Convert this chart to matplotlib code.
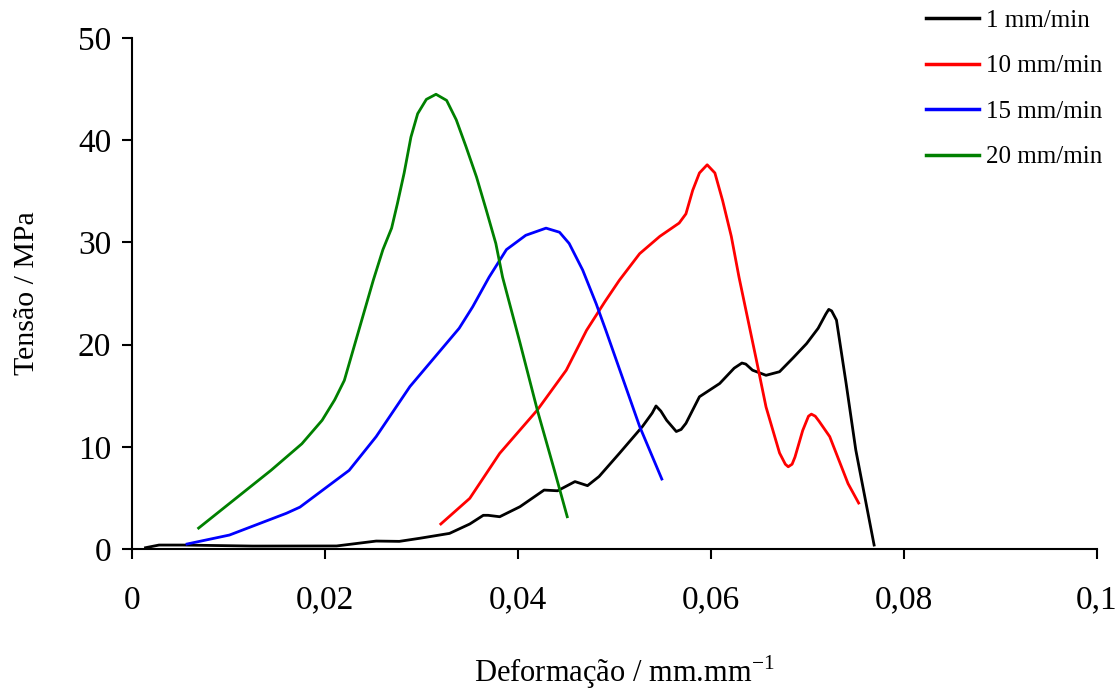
import matplotlib
matplotlib.use("Agg")
import matplotlib.pyplot as plt
from matplotlib.ticker import FuncFormatter

plt.rcParams['font.family'] = ['Liberation Serif', 'DejaVu Serif']

# 1 mm/min
x1 = [0.0014, 0.0028, 0.0053, 0.0125, 0.0212, 0.0253, 0.0277, 0.0298, 0.0329, 0.035,
      0.0364, 0.0369, 0.0381, 0.0402, 0.0427, 0.0441, 0.0459, 0.0472, 0.0484, 0.0505,
      0.0529, 0.0539, 0.0543, 0.0548, 0.0554, 0.0564, 0.0569, 0.0574, 0.0588, 0.0609,
      0.0624, 0.0632, 0.0636, 0.0643, 0.0657, 0.0671, 0.0685, 0.0699, 0.0711, 0.0719,
      0.0722, 0.0725, 0.073, 0.074, 0.075, 0.0769]
y1 = [0.13, 0.39, 0.39, 0.29, 0.3, 0.78, 0.75, 1.05, 1.53, 2.45,
      3.3, 3.3, 3.16, 4.14, 5.77, 5.7, 6.6, 6.2, 7.1, 9.36,
      12.0, 13.3, 14.0, 13.5, 12.6, 11.5, 11.7, 12.3, 14.9, 16.2,
      17.7, 18.2, 18.1, 17.5, 17.0, 17.35, 18.7, 20.1, 21.6, 23.0,
      23.45, 23.3, 22.4, 16.2, 9.7, 0.39]

# 10 mm/min
x10 = [0.032, 0.035, 0.0381, 0.042, 0.045, 0.0471, 0.049, 0.0505, 0.0526, 0.0547,
       0.0567, 0.0574, 0.0581, 0.0588, 0.0596, 0.0604, 0.0612, 0.0621, 0.0629, 0.0647,
       0.0657, 0.0671, 0.0677, 0.068, 0.0684, 0.0687, 0.0695, 0.0701, 0.0704, 0.0708,
       0.0712, 0.0723, 0.0742, 0.0753]
y10 = [2.45, 4.96, 9.36, 13.6, 17.5, 21.4, 24.2, 26.3, 28.9, 30.6,
       31.9, 32.8, 35.1, 36.8, 37.6, 36.8, 34.1, 30.6, 26.6, 18.5,
       13.9, 9.4, 8.3, 8.05, 8.3, 9.0, 11.6, 13.0, 13.2, 13.0,
       12.5, 11.0, 6.4, 4.5]

# 15 mm/min
x15 = [0.0057, 0.0101, 0.016, 0.0174, 0.0225, 0.0253, 0.0288, 0.0339, 0.0353, 0.037,
       0.0388, 0.0408, 0.0429, 0.0443, 0.0453, 0.0467, 0.0481, 0.0491, 0.0526, 0.0549]
y15 = [0.49, 1.37, 3.5, 4.1, 7.7, 11.0, 15.9, 21.6, 23.7, 26.6,
       29.3, 30.7, 31.4, 31.0, 29.9, 27.3, 24.0, 21.4, 12.0, 6.85]

# 20 mm/min
x20 = [0.0069, 0.0144, 0.0176, 0.0197, 0.021, 0.022, 0.025, 0.026, 0.0269, 0.0275,
       0.0282, 0.0289, 0.0296, 0.0305, 0.0315, 0.0326, 0.0336, 0.0346, 0.0357, 0.0367,
       0.0377, 0.0384, 0.0402, 0.042, 0.0438, 0.0451]
y20 = [2.05, 7.7, 10.3, 12.6, 14.6, 16.5, 26.3, 29.3, 31.4, 33.8,
       36.8, 40.3, 42.6, 44.0, 44.5, 43.9, 42.0, 39.4, 36.4, 33.2,
       29.9, 26.6, 20.2, 13.6, 7.6, 3.16]

series = [
    (x1, y1, 'black', '1 mm/min'),
    (x10, y10, '#ff0000', '10 mm/min'),
    (x15, y15, '#0000ff', '15 mm/min'),
    (x20, y20, '#008000', '20 mm/min'),
]

fig = plt.figure(figsize=(11.16, 6.92), dpi=100)
ax = fig.add_axes([0.1183, 0.2066, 0.983 - 0.1183, 0.945 - 0.2066])

for xs, ys, c, lab in series:
    ax.plot(xs, ys, color=c, lw=2.0, label=lab, solid_joinstyle='round')

ax.set_xlim(0, 0.1)
ax.set_ylim(0, 50)
ax.set_xticks([0, 0.02, 0.04, 0.06, 0.08, 0.1])
ax.set_yticks([0, 10, 20, 30, 40, 50])
ax.xaxis.set_major_formatter(FuncFormatter(lambda v, p: ('%g' % round(v, 3)).replace('.', ',')))
ax.tick_params(direction='out', length=7, width=1.5, labelsize=24)
ax.tick_params(axis='x', pad=19)
ax.tick_params(axis='y', pad=8)
for s in ['top', 'right']:
    ax.spines[s].set_visible(False)
for s in ['left', 'bottom']:
    ax.spines[s].set_linewidth(1.5)

ax.set_ylabel('Tensão / MPa', fontsize=21.5, labelpad=27)
ax.set_xlabel('Deformação / mm.mm$^{\\mathregular{-1}}$', fontsize=22)
ax.xaxis.set_label_coords(0.51, -0.205)
ax.xaxis.label.set_va('top')

leg = fig.legend(loc='upper left', bbox_to_anchor=(0.81, 1.019), frameon=False,
                 fontsize=18, handlelength=2.1, labelspacing=0.92, handletextpad=0.28)
for h in leg.get_lines():
    h.set_linewidth(2.5)

fig.savefig('out.png', dpi=100)
